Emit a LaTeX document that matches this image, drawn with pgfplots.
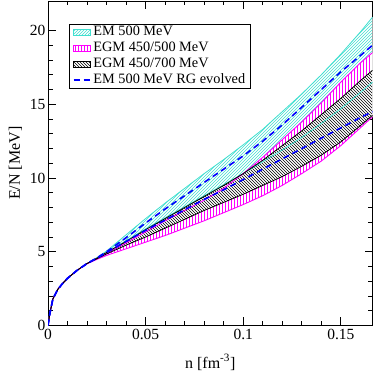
\documentclass[border=0pt]{standalone}
\usepackage{fontspec}
\setmainfont{Liberation Serif}
\usepackage{pgfplots}
\usepackage{pgfplotstable}
\pgfplotsset{compat=1.18}
\usepgfplotslibrary{fillbetween}
\usetikzlibrary{patterns}

\definecolor{turq}{HTML}{40E0D0}
\definecolor{magen}{HTML}{FF00FF}
\definecolor{rgblue}{HTML}{0000FF}

% n, EM 500 (cu/cl), RG evolved (bu/bl), EGM 450/500 (mu/ml), EGM 450/700 (ku/kl)
\pgfplotstableread{
n      cu    cl    bu    bl    mu    ml    ku    kl
0      0     0     0     0     0     0     0     0
0.001  0.85  0.85  0.85  0.85  0.85  0.85  0.85  0.85
0.0025 1.8   1.8   1.8   1.8   1.8   1.8   1.8   1.8
0.005  2.45  2.45  2.45  2.45  2.45  2.45  2.45  2.45
0.0075 2.85  2.85  2.85  2.85  2.85  2.85  2.85  2.85
0.01   3.2   3.2   3.2   3.2   3.2   3.2   3.2   3.2
0.015  3.75  3.75  3.75  3.75  3.75  3.75  3.75  3.75
0.02   4.2   4.2   4.2   4.2   4.2   4.18  4.2   4.2
0.025  4.6   4.57  4.58  4.56  4.55  4.48  4.56  4.52
0.03   5.05  4.95  5.0   4.95  4.9   4.75  4.95  4.85
0.04   6.15  5.75  5.95  5.7   5.6   5.2   5.7   5.45
0.05   7.25  6.55  6.95  6.45  6.35  5.65  6.5   6.0
0.06   8.3   7.3   7.9   7.15  7.1   6.1   7.25  6.6
0.07   9.3   8.05  8.8   7.85  7.8   6.6   8.0   7.2
0.08   10.3  8.8   9.7   8.55  8.5   7.1   8.75  7.8
0.09   11.25 9.55  10.6  9.2   9.3   7.65  9.5   8.35
0.10   12.25 10.3  11.5  9.9   10.3  8.2   10.3  8.9
0.11   13.3  11.1  12.5  10.6  11.4  8.8   11.2  9.5
0.12   14.5  11.9  13.6  11.3  12.6  9.5   12.2  10.1
0.13   15.7  12.75 14.8  12.0  13.8  10.3  13.2  10.8
0.14   17.0  13.7  16.0  12.7  15.1  11.15 14.3  11.55
0.15   18.4  14.7  17.2  13.4  16.5  12.2  15.4  12.45
0.16   19.9  15.8  18.3  14.1  17.8  13.4  16.6  13.55
0.1662 20.9  16.5  19.0  14.5  18.5  14.15 17.3  14.25
}\eos

\begin{document}
\begin{tikzpicture}
\begin{axis}[
  name=ax,
  scale only axis,
  width=324.5pt, height=324.5pt,
  xmin=0, xmax=0.1662,
  ymin=0, ymax=22,
  xtick={0,0.05,0.1,0.15},
  xticklabels={0,0.05,0.1,0.15},
  ytick={0,5,10,15,20},
  minor x tick num=4,
  minor y tick num=4,
  tick pos=both,
  tick align=inside,
  major tick length=8pt,
  minor tick length=4.5pt,
  axis line style={black, line width=0.8pt},
  tick style={black, line width=0.8pt},
  tick label style={font=\fontsize{15.5}{17}\selectfont},
  /pgf/number format/assume math mode=true,
  yticklabel style={xshift=1pt},
  xlabel={n [fm\textsuperscript{-3}]},
  ylabel={E/N [MeV]},
  label style={font=\fontsize{16}{18}\selectfont},
  xlabel style={yshift=-8pt},
  ylabel style={yshift=1pt},
  clip=true,
  legend style={at={(0.066,0.93)}, anchor=north west, draw=black, line width=0.7pt,
    font=\fontsize{14.3}{15}\selectfont, row sep=0pt, inner xsep=3pt, inner ysep=0.5pt,
    nodes={inner ysep=1.2pt, text height=10.2pt, text depth=3.3pt}, cells={anchor=west}},
  legend cell align=left,
]
% boundaries (invisible, used for fills)
\addplot[draw=none, forget plot, name path=cu] table[x=n, y=cu]{\eos};
\addplot[draw=none, forget plot, name path=cl] table[x=n, y=cl]{\eos};
\addplot[draw=none, forget plot, name path=mu] table[x=n, y=mu]{\eos};
\addplot[draw=none, forget plot, name path=ml] table[x=n, y=ml]{\eos};
\addplot[draw=none, forget plot, name path=ku] table[x=n, y=ku]{\eos};
\addplot[draw=none, forget plot, name path=kl] table[x=n, y=kl]{\eos};

% EM 500 band
\addplot[fill=white, draw=none, forget plot] fill between[of=cu and cl];
\addplot[pattern=north east lines, pattern color=turq, draw=none, forget plot] fill between[of=cu and cl];
% EGM 450/500 band
\addplot[fill=white, draw=none, forget plot] fill between[of=mu and ml];
\addplot[pattern=vertical lines, pattern color=magen, draw=none, forget plot] fill between[of=mu and ml];
% EGM 450/700 band
\addplot[fill=white, draw=none, forget plot] fill between[of=ku and kl];
\addplot[pattern=north west lines, pattern color=black, draw=none, forget plot] fill between[of=ku and kl];

% boundary lines
\addplot[turq, line width=0.8pt, forget plot] table[x=n, y=cu]{\eos};
\addplot[turq, line width=0.8pt, forget plot] table[x=n, y=cl]{\eos};
\addplot[magen, line width=0.9pt, forget plot] table[x=n, y=mu]{\eos};
\addplot[magen, line width=0.9pt, forget plot] table[x=n, y=ml]{\eos};
\addplot[black, line width=0.8pt, forget plot] table[x=n, y=ku]{\eos};
\addplot[black, line width=0.8pt, forget plot] table[x=n, y=kl]{\eos};
% RG evolved
\addplot[rgblue, line width=1.6pt, dash pattern=on 6pt off 4pt, forget plot] table[x=n, y=bu]{\eos};
\addplot[rgblue, line width=1.6pt, dash pattern=on 6pt off 4pt, forget plot] table[x=n, y=bl]{\eos};

\addlegendimage{area legend, pattern=north east lines, pattern color=turq, draw=turq}
\addlegendentry{EM 500 MeV}
\addlegendimage{area legend, pattern=vertical lines, pattern color=magen, draw=magen}
\addlegendentry{EGM 450/500 MeV}
\addlegendimage{area legend, pattern=north west lines, pattern color=black, draw=black}
\addlegendentry{EGM 450/700 MeV}
\addlegendimage{rgblue, line width=1.6pt, dash pattern=on 6pt off 4pt}
\addlegendentry{EM 500 MeV RG evolved}
\end{axis}
\pgfresetboundingbox
\path[use as bounding box] ([xshift=-48pt, yshift=-49.5pt]ax.south west) rectangle ([xshift=1.5pt, yshift=1pt]ax.north east);
\end{tikzpicture}
\end{document}
